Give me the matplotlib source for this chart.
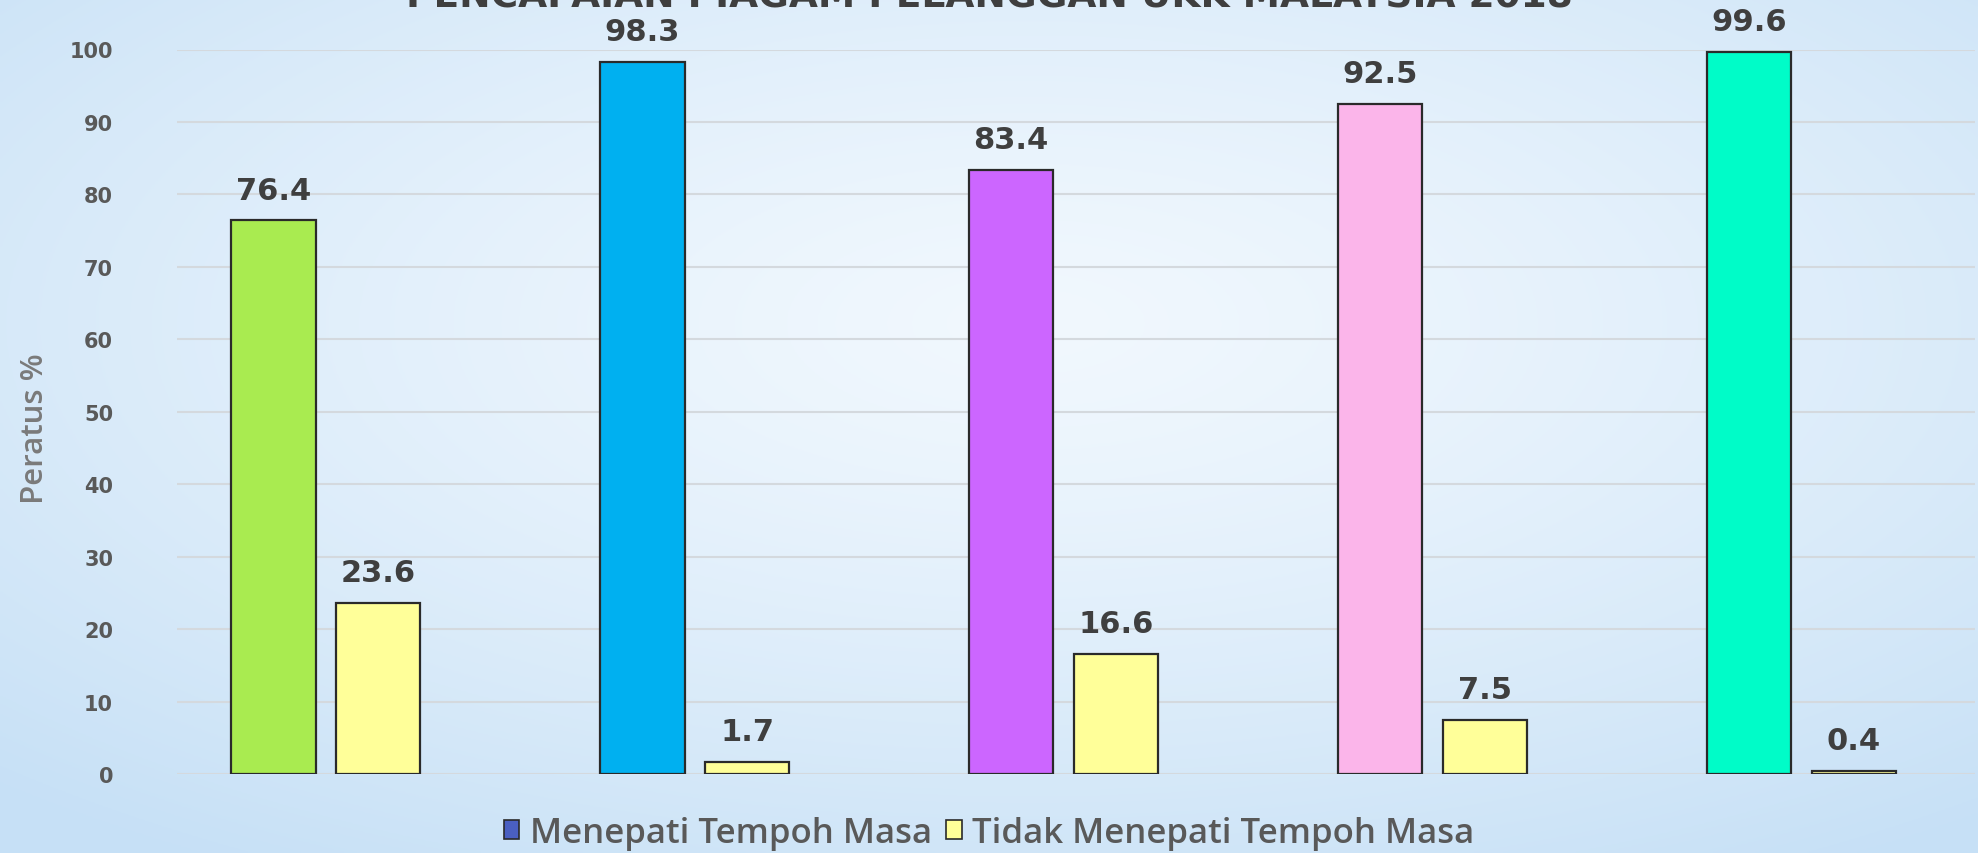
import numpy as np
import matplotlib
matplotlib.use("Agg")
import matplotlib.pyplot as plt
from matplotlib.patches import Patch

# ---- data ----
categories = ["A", "B", "C", "D", "E"]
menepati = [76.4, 98.3, 83.4, 92.5, 99.6]
tidak_menepati = [23.6, 1.7, 16.6, 7.5, 0.4]
menepati_colors = ["#a9eb50", "#00b0f0", "#cc66ff", "#fbb5ea", "#00fcc8"]
tidak_color = "#ffff99"
legend_labels = ["Menepati Tempoh Masa", "Tidak Menepati Tempoh Masa"]
yticks = list(range(0, 101, 10))
title = "PENCAPAIAN PIAGAM PELANGGAN UKK MALAYSIA 2018"
ylabel = "Peratus %"

W, H = 1978, 854
fig = plt.figure(figsize=(W / 100, H / 100), dpi=100)

# background gradient
bg = fig.add_axes([0, 0, 1, 1], zorder=-10)
yy, xx = np.mgrid[0:1:300j, 0:1:600j]
d = np.sqrt(((xx - 0.52) / 0.75) ** 2 + ((yy - 0.62) / 0.75) ** 2)
d = np.clip(d, 0, 1)
c_center = np.array([0.945, 0.972, 0.995])
c_edge = np.array([0.78, 0.88, 0.965])
img = c_center[None, None, :] * (1 - d[..., None] ** 1.3) + c_edge[None, None, :] * (d[..., None] ** 1.3)
bg.imshow(img, origin="lower", extent=[0, 1, 0, 1], aspect="auto")
bg.set_axis_off()

ax = fig.add_axes([177 / W, 79 / H, (1975 - 177) / W, (775 - 50.5) / H])
ax.patch.set_alpha(0)

x = np.arange(len(categories))
bw = 0.229
off = 0.142
b1 = ax.bar(x - off, menepati, bw, color=menepati_colors, edgecolor="#2a2a2a", linewidth=1.6, zorder=3)
b2 = ax.bar(x + off, tidak_menepati, bw, color=tidak_color, edgecolor="#2a2a2a", linewidth=1.6, zorder=3)

for bars, vals in ((b1, menepati), (b2, tidak_menepati)):
    for r, v in zip(bars, vals):
        ax.text(r.get_x() + r.get_width() / 2, v + 2.2, f"{v}", ha="center", va="bottom",
                fontsize=22, fontweight="bold", color="#3f3f3f", clip_on=False, zorder=4)

ax.set_xlim(-0.403, 4.47)
ax.set_ylim(0, 100)
ax.set_yticks(yticks)
ax.set_xticks([])
ax.grid(axis="y", color="#d4d9de", linewidth=1.5, zorder=0)
for s in ax.spines.values():
    s.set_visible(False)
ax.tick_params(axis="y", length=0, pad=46, labelsize=15, labelcolor="#595959")
for t in ax.get_yticklabels():
    t.set_fontweight("bold")

fig.text(35 / W, 1 - 429 / H, ylabel, rotation=90, ha="center", va="center",
         fontsize=22.5, color="#7a7a7a", family="Open Sans", fontweight="semibold")

fig.text(0.5, 1.0 + 2 / H, title, ha="center", va="center", fontsize=27, fontweight="bold",
         color="#3f3f3f")

handles = [Patch(facecolor="#4a5fc1", edgecolor="#2a2a2a", linewidth=1.2),
           Patch(facecolor=tidak_color, edgecolor="#2a2a2a", linewidth=1.2)]
fig.legend(handles, legend_labels, loc="center", bbox_to_anchor=(0.5, (854 - 834) / H),
           ncol=2, frameon=False, prop={"family": "Open Sans", "size": 25, "weight": "semibold"},
           handlelength=0.45, handleheight=0.45, handletextpad=0.3, columnspacing=0.4,
           labelcolor="#595959")

fig.savefig("out.png", dpi=100)
